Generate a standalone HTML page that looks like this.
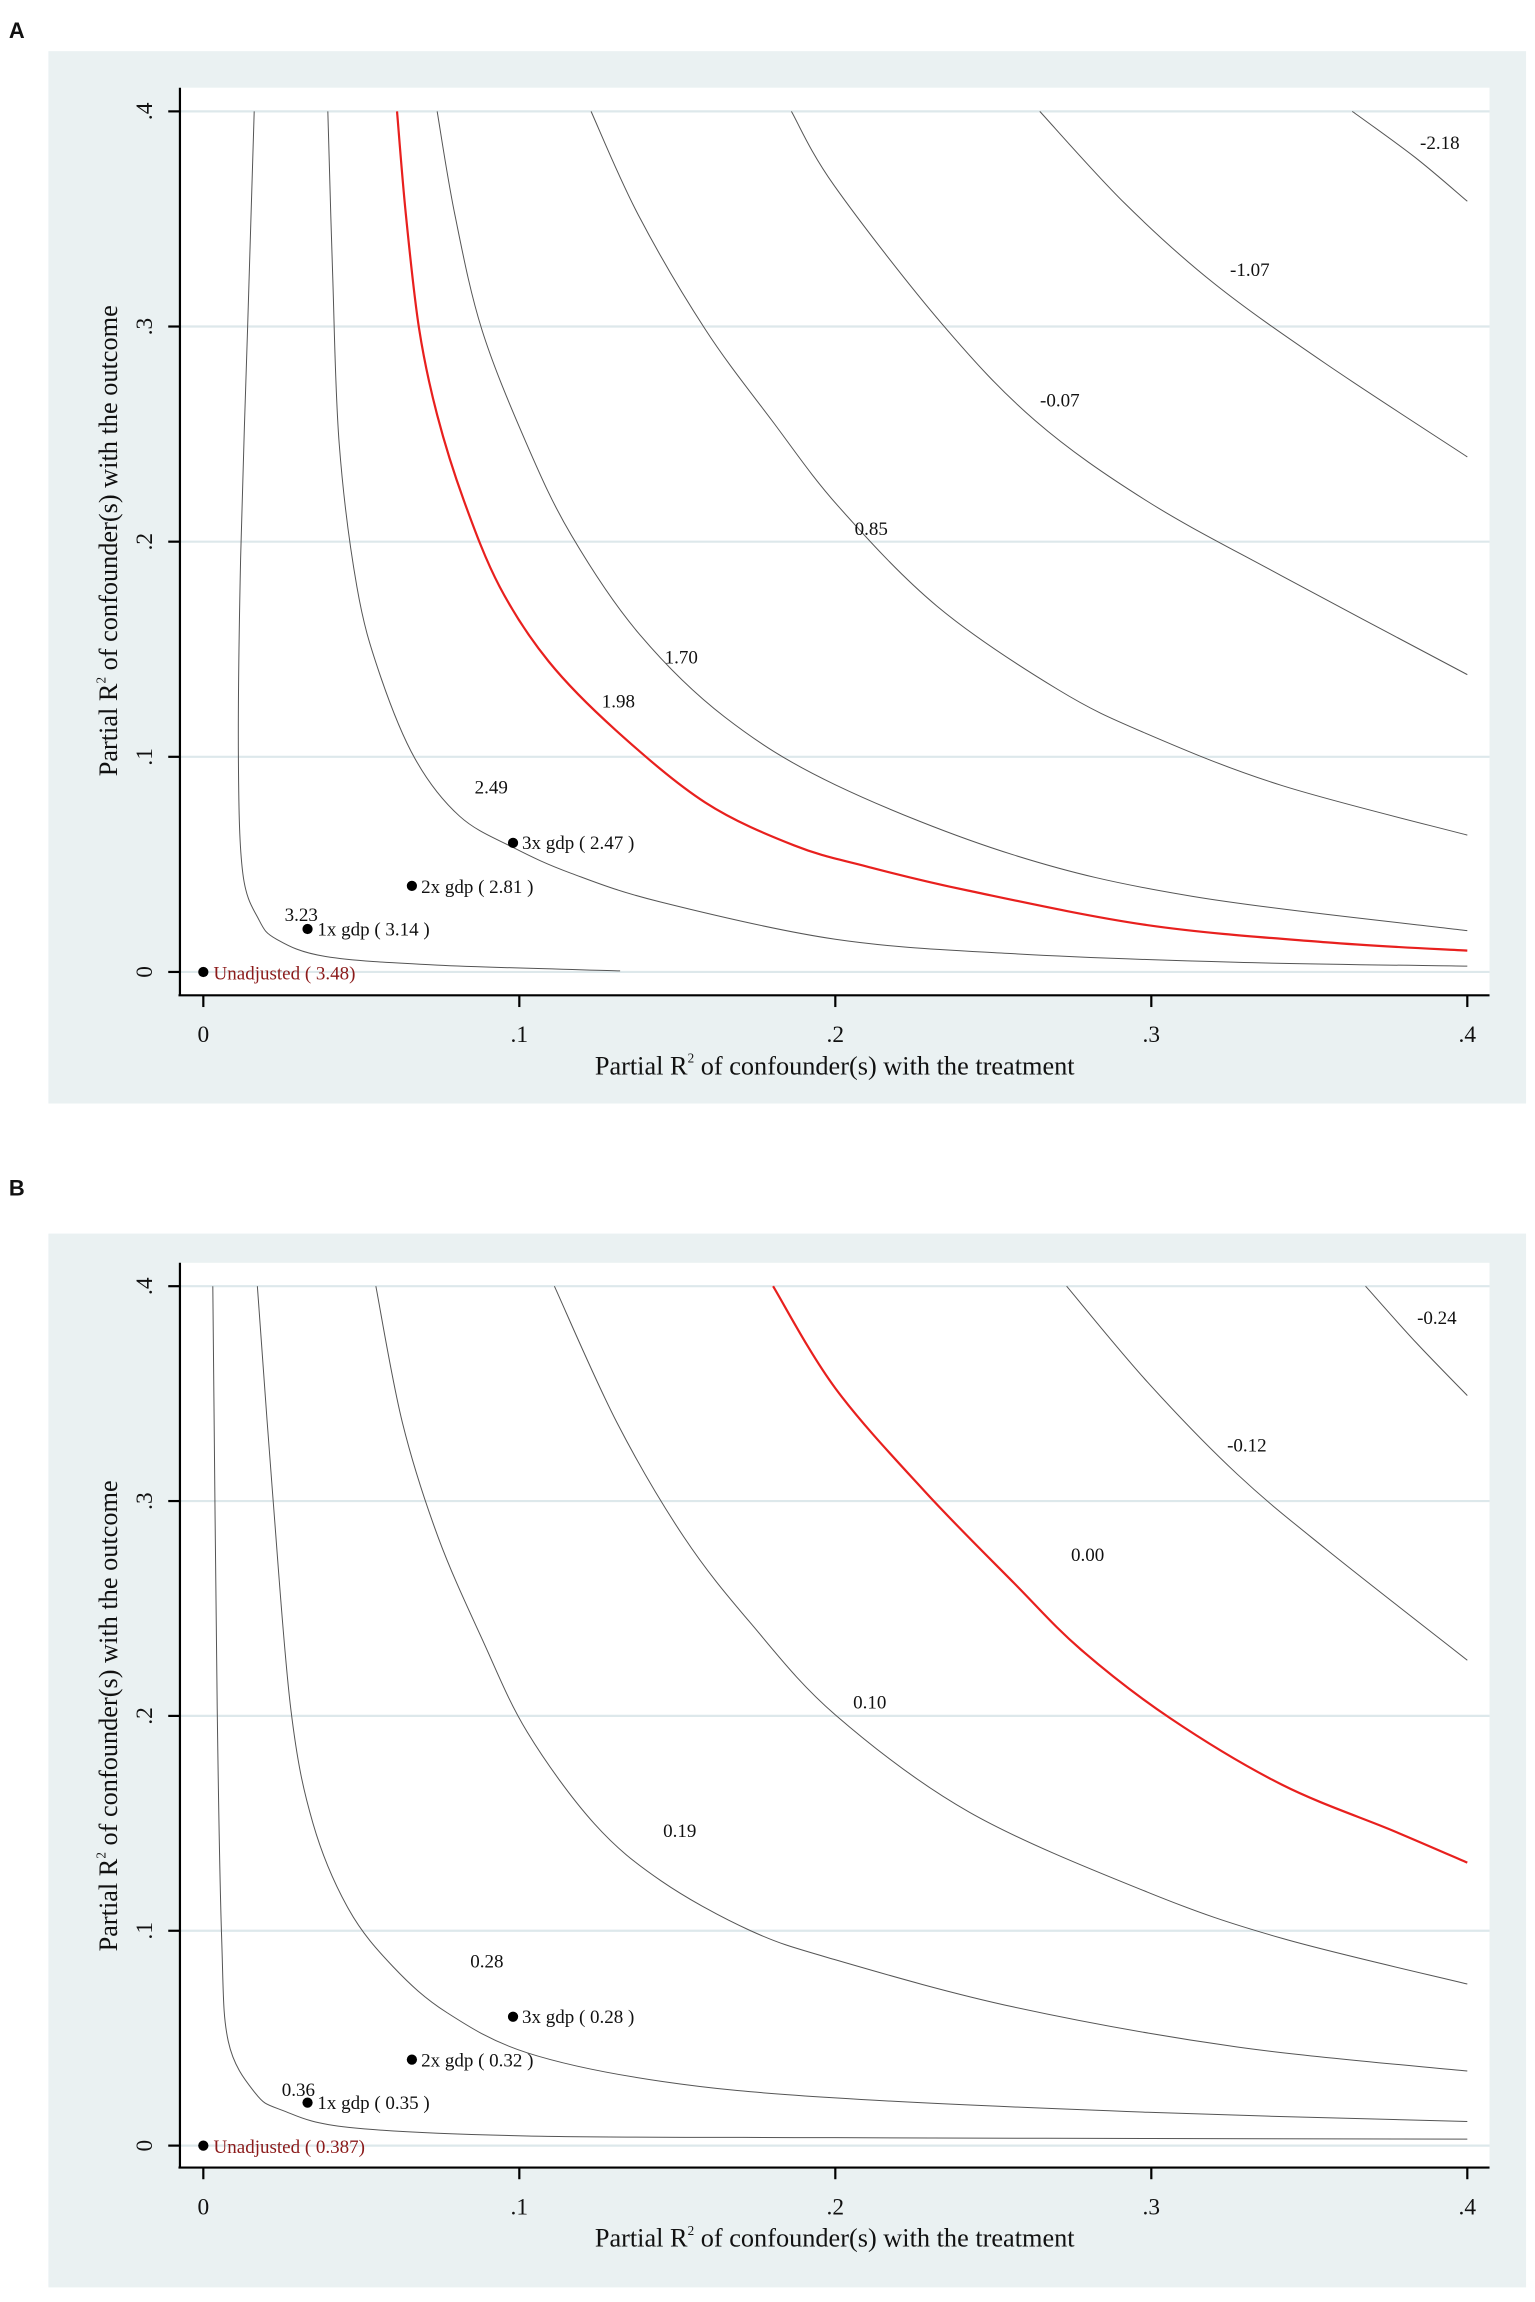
<!DOCTYPE html>
<html><head><meta charset="utf-8"><style>
html,body{margin:0;padding:0;background:#fff;}
svg{display:block;}
text{font-family:"Liberation Serif",serif;fill:#111;}
.c{fill:none;stroke:#555;stroke-width:1;vector-effect:non-scaling-stroke;}
.r{fill:none;stroke:#e8201e;stroke-width:2.2;vector-effect:non-scaling-stroke;}
.lb{font-size:13px;}
.tk{font-size:16px;}
.ti{font-size:18px;}
.pl{font-family:"Liberation Sans",sans-serif;font-weight:bold;font-size:15px;}
</style></head><body>
<svg width="1535" height="2302" viewBox="0 0 1050 1575" xmlns="http://www.w3.org/2000/svg">
<rect width="1050" height="1575" fill="#fff"/>
<!-- Panel A -->
<text class="pl" x="6" y="26">A</text>
<rect x="33" y="35" width="1011" height="720" fill="#eaf1f2"/>
<rect x="123" y="60" width="896" height="621" fill="#fff"/>
<g stroke="#dde8eb" stroke-width="1.5">
<line x1="123" x2="1019" y1="76.2" y2="76.2"/><line x1="123" x2="1019" y1="223.4" y2="223.4"/>
<line x1="123" x2="1019" y1="370.6" y2="370.6"/><line x1="123" x2="1019" y1="517.8" y2="517.8"/>
<line x1="123" x2="1019" y1="665" y2="665"/>
</g>
<g transform="translate(139 665) scale(2162 -1472)">
<polyline class="c" points=".0161,.4 .014,.2988 .0118,.1923 .0111,.0991 .0125,.0458 .0175,.0245 .0232,.0152 .0387,.0072 .074,.0032 .1319,.0005"/>
<polyline class="c" points=".0394,.4 .0409,.3254 .043,.2455 .0486,.179 .0557,.139 .067,.0991 .0811,.0724 .0981,.0578 .1165,.0458 .1447,.0325 .2,.0152 .2562,.0085 .3268,.0045 .4,.0027"/>
<polyline class="r" points=".0613,.4 .0641,.352 .0683,.2988 .074,.2589 .0825,.2189 .0938,.179 .1093,.1443 .1305,.1124 .1588,.0788 .187,.0588 .21,.049 .2421,.0378 .2986,.0218 .3551,.0138 .4,.0099"/>
<polyline class="c" points=".074,.4 .0796,.352 .0881,.2988 .1023,.2455 .1165,.2029 .1376,.1577 .165,.1185 .2,.087 .2562,.0545 .3128,.0352 .4,.0192"/>
<polyline class="c" points=".1227,.4 .1376,.352 .1588,.2988 .18,.2562 .2011,.2162 .2322,.17 .2703,.1314 .2986,.1107 .341,.0868 .4,.0636"/>
<polyline class="c" points=".1861,.4 .1997,.3654 .2336,.3015 .2633,.2562 .2986,.2189 .341,.1843 .4,.1382"/>
<polyline class="c" points=".2647,.4 .2915,.3574 .3198,.3201 .3551,.2828 .4,.2394"/>
<polyline class="c" points=".3636,.4 .3834,.3787 .4,.3582"/>
</g>
<g class="lb" text-anchor="middle">
<text x="985" y="102">-2.18</text><text x="855" y="189">-1.07</text><text x="725" y="278">-0.07</text>
<text x="596" y="366">0.85</text><text x="466" y="454">1.70</text><text x="423" y="484">1.98</text>
<text x="336" y="543">2.49</text><text x="206" y="630">3.23</text>
</g>
<g fill="#000">
<circle cx="139" cy="665" r="3.5"/><circle cx="210.3" cy="635.6" r="3.5"/><circle cx="281.7" cy="606.1" r="3.5"/><circle cx="350.9" cy="576.7" r="3.5"/>
</g>
<text class="lb" x="146" y="670" style="fill:#8b1a1a">Unadjusted ( 3.48)</text>
<text class="lb" x="217" y="640">1x gdp ( 3.14 )</text>
<text class="lb" x="288" y="611">2x gdp ( 2.81 )</text>
<text class="lb" x="357" y="581">3x gdp ( 2.47 )</text>
<g stroke="#000" stroke-width="1.5">
<line x1="123" y1="60" x2="123" y2="681"/><line x1="122" y1="681" x2="1019" y2="681"/>
<line x1="115" x2="123" y1="76.2" y2="76.2"/><line x1="115" x2="123" y1="223.4" y2="223.4"/><line x1="115" x2="123" y1="370.6" y2="370.6"/><line x1="115" x2="123" y1="517.8" y2="517.8"/><line x1="115" x2="123" y1="665" y2="665"/>
<line y1="681" y2="689" x1="139" x2="139"/><line y1="681" y2="689" x1="355.2" x2="355.2"/><line y1="681" y2="689" x1="571.4" x2="571.4"/><line y1="681" y2="689" x1="787.6" x2="787.6"/><line y1="681" y2="689" x1="1003.8" x2="1003.8"/>
</g>
<g class="tk" text-anchor="middle">
<text transform="translate(104 76.2) rotate(-90)">.4</text><text transform="translate(104 223.4) rotate(-90)">.3</text>
<text transform="translate(104 370.6) rotate(-90)">.2</text><text transform="translate(104 517.8) rotate(-90)">.1</text>
<text transform="translate(104 665) rotate(-90)">0</text>
<text x="139" y="713">0</text><text x="355.2" y="713">.1</text><text x="571.4" y="713">.2</text><text x="787.6" y="713">.3</text><text x="1003.8" y="713">.4</text>
</g>
<text class="ti" x="571" y="735" text-anchor="middle">Partial R<tspan dy="-8" font-size="9">2</tspan><tspan dy="8"> of confounder(s) with the treatment</tspan></text>
<text class="ti" transform="translate(80 370) rotate(-90)" text-anchor="middle">Partial R<tspan dy="-8" font-size="9">2</tspan><tspan dy="8"> of confounder(s) with the outcome</tspan></text>

<!-- Panel B -->
<text class="pl" x="6" y="818">B</text>
<rect x="33" y="844" width="1011" height="721" fill="#eaf1f2"/>
<rect x="123" y="864" width="896" height="619" fill="#fff"/>
<g stroke="#dde8eb" stroke-width="1.5">
<line x1="123" x2="1019" y1="880" y2="880"/><line x1="123" x2="1019" y1="1027" y2="1027"/>
<line x1="123" x2="1019" y1="1174" y2="1174"/><line x1="123" x2="1019" y1="1321" y2="1321"/>
<line x1="123" x2="1019" y1="1468" y2="1468"/>
</g>
<g transform="translate(139 1468) scale(2162 -1470)">
<polyline class="c" points=".003,.4 .0044,.203 .0058,.0965 .0079,.0485 .0164,.0245 .0249,.0165 .046,.0085 .1025,.0045 .2,.0037 .3,.0033 .4,.003"/>
<polyline class="c" points=".0171,.4 .022,.302 .0277,.203 .0347,.15 .046,.11 .0601,.0832 .0771,.0619 .1025,.0432 .145,.0299 .2,.0222 .2989,.0155 .4,.0112"/>
<polyline class="c" points=".0546,.4 .063,.3365 .0743,.2832 .0884,.2352 .1025,.1925 .1237,.1499 .1449,.1232 .1732,.1 .2,.0865 .2565,.0645 .3272,.0459 .4,.0347"/>
<polyline class="c" points=".1111,.4 .1309,.3365 .1521,.2832 .1732,.2432 .2,.2005 .2424,.1552 .2989,.1179 .3413,.0965 .4,.0752"/>
<polyline class="r" points=".1803,.4 .2,.3525 .2283,.3045 .2565,.2619 .2777,.2309 .306,.1989 .3413,.168 .3766,.1465 .4,.1317"/>
<polyline class="c" points=".2732,.4 .2989,.3552 .3272,.3125 .3554,.2775 .4,.2259"/>
<polyline class="c" points=".3678,.4 .3837,.3739 .4,.3491"/>
</g>
<g class="lb" text-anchor="middle">
<text x="983" y="906">-0.24</text><text x="853" y="993">-0.12</text><text x="744" y="1068">0.00</text>
<text x="595" y="1169">0.10</text><text x="465" y="1257">0.19</text><text x="333" y="1346">0.28</text>
<text x="204" y="1434">0.36</text>
</g>
<g fill="#000">
<circle cx="139" cy="1468" r="3.5"/><circle cx="210.3" cy="1438.6" r="3.5"/><circle cx="281.7" cy="1409.2" r="3.5"/><circle cx="350.9" cy="1379.8" r="3.5"/>
</g>
<text class="lb" x="146" y="1473" style="fill:#8b1a1a">Unadjusted ( 0.387)</text>
<text class="lb" x="217" y="1443">1x gdp ( 0.35 )</text>
<text class="lb" x="288" y="1414">2x gdp ( 0.32 )</text>
<text class="lb" x="357" y="1384">3x gdp ( 0.28 )</text>
<g stroke="#000" stroke-width="1.5">
<line x1="123" y1="864" x2="123" y2="1483"/><line x1="122" y1="1483" x2="1019" y2="1483"/>
<line x1="115" x2="123" y1="880" y2="880"/><line x1="115" x2="123" y1="1027" y2="1027"/><line x1="115" x2="123" y1="1174" y2="1174"/><line x1="115" x2="123" y1="1321" y2="1321"/><line x1="115" x2="123" y1="1468" y2="1468"/>
<line y1="1483" y2="1491" x1="139" x2="139"/><line y1="1483" y2="1491" x1="355.2" x2="355.2"/><line y1="1483" y2="1491" x1="571.4" x2="571.4"/><line y1="1483" y2="1491" x1="787.6" x2="787.6"/><line y1="1483" y2="1491" x1="1003.8" x2="1003.8"/>
</g>
<g class="tk" text-anchor="middle">
<text transform="translate(104 880) rotate(-90)">.4</text><text transform="translate(104 1027) rotate(-90)">.3</text>
<text transform="translate(104 1174) rotate(-90)">.2</text><text transform="translate(104 1321) rotate(-90)">.1</text>
<text transform="translate(104 1468) rotate(-90)">0</text>
<text x="139" y="1515">0</text><text x="355.2" y="1515">.1</text><text x="571.4" y="1515">.2</text><text x="787.6" y="1515">.3</text><text x="1003.8" y="1515">.4</text>
</g>
<text class="ti" x="571" y="1537" text-anchor="middle">Partial R<tspan dy="-8" font-size="9">2</tspan><tspan dy="8"> of confounder(s) with the treatment</tspan></text>
<text class="ti" transform="translate(80 1174) rotate(-90)" text-anchor="middle">Partial R<tspan dy="-8" font-size="9">2</tspan><tspan dy="8"> of confounder(s) with the outcome</tspan></text>
</svg>
<script>
document.querySelectorAll('polyline').forEach(function(pl){
  var pts=pl.getAttribute('points').trim().split(/\s+/).map(function(s){var a=s.split(',');return [parseFloat(a[0]),parseFloat(a[1])];});
  if(pts.length<3)return;
  var d='M'+pts[0][0]+','+pts[0][1];
  for(var i=0;i<pts.length-1;i++){
    var p0=pts[i-1]||pts[i],p1=pts[i],p2=pts[i+1],p3=pts[i+2]||p2;
    var c1=[p1[0]+(p2[0]-p0[0])/6,p1[1]+(p2[1]-p0[1])/6];
    var c2=[p2[0]-(p3[0]-p1[0])/6,p2[1]-(p3[1]-p1[1])/6];
    d+=' C'+c1[0]+','+c1[1]+' '+c2[0]+','+c2[1]+' '+p2[0]+','+p2[1];
  }
  var p=document.createElementNS('http://www.w3.org/2000/svg','path');
  p.setAttribute('d',d);p.setAttribute('class',pl.getAttribute('class'));
  pl.parentNode.replaceChild(p,pl);
});
</script>
</body></html>
